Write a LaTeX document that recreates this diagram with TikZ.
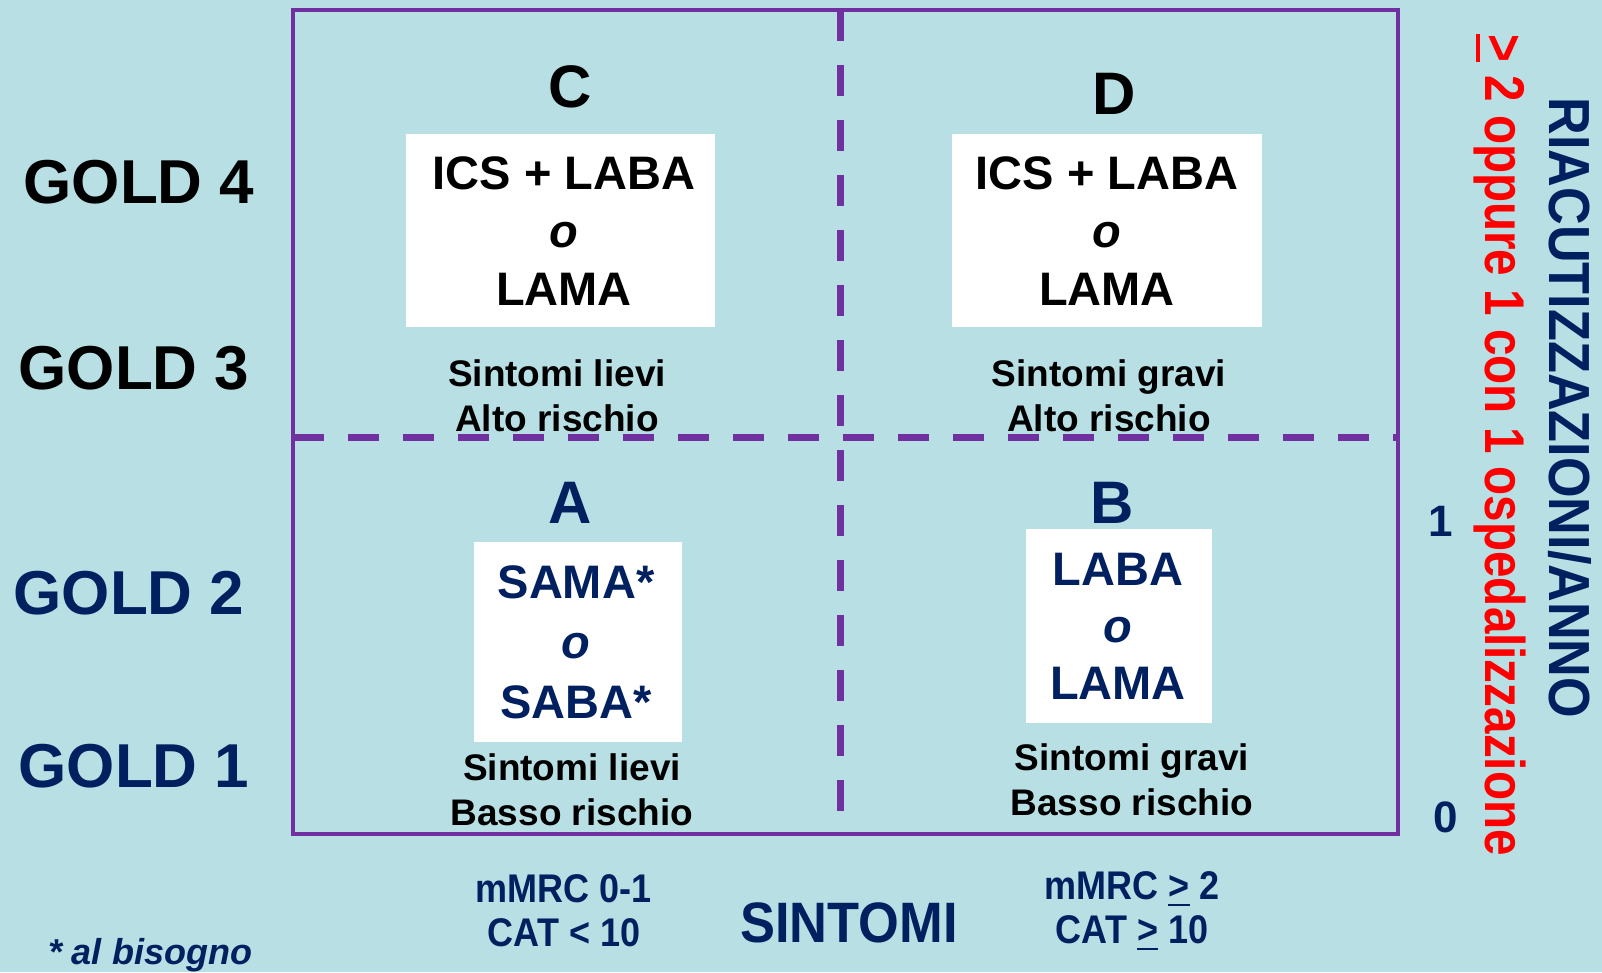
\documentclass[tikz,border=0pt]{standalone}
\usepackage{fontspec}
\setmainfont{Liberation Sans}
\newfontfamily\narA{Liberation Sans}[FakeStretch=0.9]
\newfontfamily\narB{Liberation Sans}[FakeStretch=0.85]
\newfontfamily\narC{Liberation Sans}[FakeStretch=0.92]
\definecolor{bgc}{HTML}{B8DFE3}
\definecolor{framec}{HTML}{7030A0}
\definecolor{navy}{HTML}{002060}
\definecolor{redc}{HTML}{FF0000}
\newcommand\fs[2]{\fontsize{#1}{#2}\selectfont}
\newcommand\ugt{\leavevmode\setbox0\hbox{>}\rlap{\copy0}\raisebox{-0.17em}{\rule{\wd0}{0.07em}}}
\begin{document}
\begin{tikzpicture}[x=1pt,y=-1pt,
  every node/.style={inner sep=0pt, outer sep=0pt, align=center},
  gold/.style={font=\fs{62}{74}\bfseries},
  quad/.style={font=\fs{60}{72}\bfseries},
  drug/.style={font=\fs{47}{58}\bfseries},
  desc/.style={font=\fs{37}{45}\bfseries, text=black},
  wbox/.style={fill=white, draw=none},
  grid/.style={draw=framec, line width=4.5pt},
  dgrid/.style={draw=framec, line width=7pt, dash pattern=on 31pt off 24pt},
  axis/.style={font=\narA\fs{40}{44}\bfseries, text=navy}]
\fill[bgc] (0,0) rectangle (1602,972);
\useasboundingbox (0,0) rectangle (1602,972);

% grid
\coordinate (tl) at (293,10);
\coordinate (br) at (1398,834);
\coordinate (ml) at (293,437);
\coordinate (mr) at (1398,437);
\coordinate (mt) at (840,10);
\coordinate (mb) at (840,834);
\draw[dgrid] (ml) -- (mr);
\draw[dgrid] (mt) -- (mb);
\draw[grid] (tl) rectangle (br);

% GOLD labels
\node[gold, text=black] (g4) at (139,182) {GOLD 4};
\node[gold, text=black] (g3) at (134,368) {GOLD 3};
\node[gold, text=navy] (g2) at (129,593) {GOLD 2};
\node[gold, text=navy] (g1) at (134,766) {GOLD 1};

% quadrant letters
\node[quad, text=black] (qC) at (570,87) {C};
\node[quad, text=black] (qD) at (1114,94) {D};
\node[quad, text=navy] (qA) at (570,503) {A};
\node[quad, text=navy] (qB) at (1112,503) {B};

% white boxes
\node[wbox, minimum width=309pt, minimum height=193pt] (bC) at (560.5,230.5) {};
\node[wbox, minimum width=310pt, minimum height=193pt] (bD) at (1107,230.5) {};
\node[wbox, minimum width=208pt, minimum height=200pt] (bA) at (578,642) {};
\node[wbox, minimum width=186pt, minimum height=194pt] (bB) at (1119,626) {};

\node[drug, text=black] (tC) at (564,231) {ICS + LABA\\\textit{o}\\LAMA};
\node[drug, text=black] (tD) at (1107,231) {ICS + LABA\\\textit{o}\\LAMA};
\node[drug, text=navy, font=\fs{47}{60}\bfseries] (tA) at (576,642) {SAMA*\\\textit{o}\\SABA*};
\node[drug, text=navy, font=\fs{47}{57}\bfseries] (tB) at (1118,626) {LABA\\\textit{o}\\LAMA};

% descriptions
\node[desc] (dC) at (557,396) {Sintomi lievi\\Alto rischio};
\node[desc] (dD) at (1109,396) {Sintomi gravi\\Alto rischio};
\node[desc] (dA) at (572,790) {Sintomi lievi\\Basso rischio};
\node[desc] (dB) at (1132,780) {Sintomi gravi\\Basso rischio};

% bottom axis
\node[axis] (sx1) at (564,911) {mMRC 0-1\\CAT < 10};
\node[axis] (sx2) at (1132,911) {mMRC \ugt{} 2\\CAT \ugt{} 10};
\node[font=\narC\fs{57}{60}\bfseries, text=navy] (sint) at (849,923) {SINTOMI};
\node[font=\fs{36}{40}\bfseries\itshape, text=navy, anchor=base west] (note) at (48,964) {* al bisogno};

% right axis
\node[font=\fs{44}{48}\bfseries, text=navy] (n1) at (1441,521) {1};
\node[font=\fs{44}{48}\bfseries, text=navy] (n0) at (1446,817) {0};
\node[font=\narA\fs{58}{60}\bfseries, text=navy, rotate=-90] (riac) at (1570,408) {RIACUTIZZAZIONI/ANNO};
\node[font=\narB\fs{56}{60}\bfseries, text=redc, rotate=-90] (osp) at (1500,445) {\ugt{} 2 oppure 1 con 1 ospedalizzazione};
\end{tikzpicture}
\end{document}
